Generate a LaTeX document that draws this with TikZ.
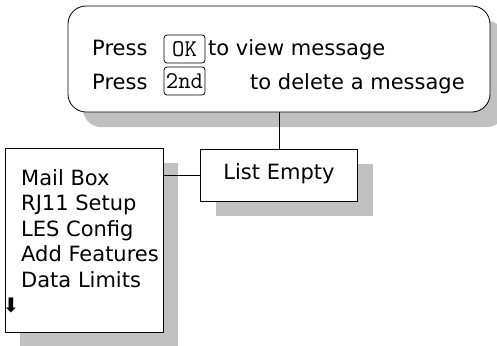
\documentclass[tikz,border=0pt]{standalone}
\usepackage{fontspec}
\setmainfont{DejaVu Sans}
\usetikzlibrary{positioning,shadows}
\definecolor{shadowgray}{RGB}{192,192,192}
\tikzset{
  panel/.style   ={draw,fill=white,line width=0.8pt,
                   general shadow={fill=shadowgray,shadow xshift=15pt,shadow yshift=-15pt}},
  msgbox/.style  ={panel,rounded corners=18pt,minimum width=422pt,minimum height=106pt},
  menubox/.style ={panel,minimum width=158pt,minimum height=184pt},
  statebox/.style={panel,minimum width=157pt,minimum height=52pt,
                   font=\fontsize{21}{25}\selectfont,text height=0.9em,text depth=0pt},
  txt/.style     ={font=\fontsize{21}{25}\selectfont,inner sep=0pt,anchor=base west},
  key/.style     ={draw,rounded corners=3pt,line width=0.8pt,inner sep=0pt,
                   font=\ttfamily\fontsize{24}{26}\selectfont,minimum width=41pt,minimum height=28pt},
  link/.style    ={line width=0.8pt}
}

\begin{document}
\begin{tikzpicture}[x=1pt,y=-1pt]
  \useasboundingbox (0,0) rectangle (497,345);
  % Boxes
  \node (msg)   [msgbox]   at (279,59)  {};
  \node (empty) [statebox] at (279,175) {List Empty};
  \node (menu)  [menubox]  at (84,240)  {};

  % Message text
  \node (press1) [txt] at (92,56)     {Press};
  \node (ok)     [key] at (184.5,49)  {OK};
  \node (view)   [txt] at (208,56)    {to view message};
  \node (press2) [txt] at (92,89)     {Press};
  \node (second) [key] at (184.5,81)  {2nd};
  \node (delete) [txt] at (250,89)    {to delete a message};

  % Menu entries
  \foreach \entry [count=\i] in {Mail Box, RJ11 Setup, LES Config, Add Features, Data Limits}
    \node (entry\i) [txt] at (21,{185+25.5*(\i-1)}) {\entry};
  \node (more) [font=\fontsize{20}{20}\selectfont,inner sep=0pt] at (11,305) {⬇};

  % Connectors
  \draw [link] (msg.south) -- (empty.north);
  \draw [link] (empty.west -| menu.east) -- (empty.west);
\end{tikzpicture}
\end{document}
